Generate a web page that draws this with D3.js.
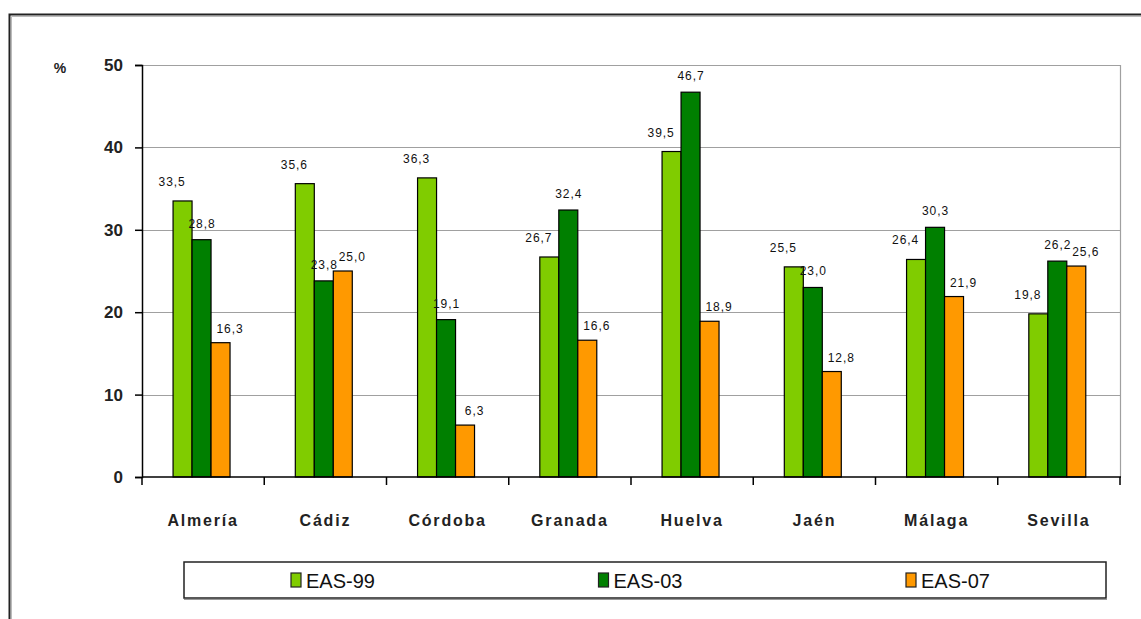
<!DOCTYPE html>
<html>
<head>
<meta charset="utf-8">
<script src="https://cdn.jsdelivr.net/npm/d3@7"></script>
<style>
  html, body { margin: 0; padding: 0; background: #fff; }
  svg { display: block; }
</style>
</head>
<body>
<svg id="chart" width="1141" height="619"></svg>
<script>
const categories = ["Almería", "Cádiz", "Córdoba", "Granada", "Huelva", "Jaén", "Málaga", "Sevilla"];
const seriesNames = ["EAS-99", "EAS-03", "EAS-07"];
const eas99 = [33.5, 35.6, 36.3, 26.7, 39.5, 25.5, 26.4, 19.8];
const eas03 = [28.8, 23.8, 19.1, 32.4, 46.7, 23.0, 30.3, 26.2];
const eas07 = [16.3, 25.0, 6.3, 16.6, 18.9, 12.8, 21.9, 25.6];
const yTicks = [0, 10, 20, 30, 40, 50];
const colors = ["#80cc00", "#007f00", "#ff9900"];

(function () {
const seriesValues = [eas99, eas03, eas07];
const svg = d3.select("#chart");
const FONT = "Arial, 'Liberation Sans', sans-serif";

// outer frame
svg.append("path").attr("d", "M9.5,619 V14.5 H1141")
  .attr("fill", "none").attr("stroke", "#222").attr("stroke-width", 2);
svg.append("path").attr("d", "M11.5,619 V16.5 H1141")
  .attr("fill", "none").attr("stroke", "#bbb").attr("stroke-width", 1);

const pl = 142, pr = 1120, pt = 65, pb = 477;
const x = d3.scaleBand().domain(categories).range([pl, pr]).padding(0);
const bw = x.bandwidth();
const xs = d3.scaleBand().domain(seriesNames).range([bw * 0.25, bw * 0.716]).padding(0);
const y = d3.scaleLinear().domain([0, 50]).range([pb, pt]);

// gridlines
svg.append("g").selectAll("line").data(yTicks.filter(d => d > 0)).join("line")
  .attr("x1", pl).attr("x2", pr)
  .attr("y1", d => Math.round(y(d)) + 0.5).attr("y2", d => Math.round(y(d)) + 0.5)
  .attr("stroke", "#a0a0a0").attr("stroke-width", 1.2);
svg.append("line").attr("x1", pr + 0.5).attr("x2", pr + 0.5)
  .attr("y1", pt).attr("y2", pb).attr("stroke", "#a0a0a0").attr("stroke-width", 1.2);

// bars
const rows = categories.map((c, i) => seriesNames.map((s, j) => ({ c, s, j, v: seriesValues[j][i] })));
const groups = svg.append("g").selectAll("g").data(rows).join("g")
  .attr("transform", d => `translate(${x(d[0].c)},0)`);
groups.selectAll("rect").data(d => d).join("rect")
  .attr("x", d => xs(d.s) + 0.5)
  .attr("y", d => y(d.v))
  .attr("width", xs.bandwidth())
  .attr("height", d => y(0) - y(d.v))
  .attr("fill", d => colors[d.j])
  .attr("stroke", "#000").attr("stroke-width", 1.2);

// value labels
const labDx = [-10, 1, 10];
const labDy = [-15, -12, -10];
groups.selectAll("text").data(d => d).join("text")
  .attr("x", d => xs(d.s) + xs.bandwidth() / 2 + labDx[d.j])
  .attr("y", d => y(d.v) + labDy[d.j])
  .attr("text-anchor", "middle")
  .attr("font-family", FONT)
  .attr("font-size", 12).attr("letter-spacing", 0.9)
  .attr("fill", "#111")
  .text(d => d3.format(".1f")(d.v).replace(".", ","));

// y axis
const yAxis = d3.axisLeft(y).tickValues(yTicks).tickSize(7).tickPadding(12);
const gy = svg.append("g").attr("transform", `translate(${pl},0)`).call(yAxis);
gy.select(".domain").attr("stroke", "#000").attr("stroke-width", 1.5);
gy.selectAll(".tick line").attr("stroke", "#000").attr("stroke-width", 1.5);
gy.selectAll(".tick text")
  .attr("font-family", FONT)
  .attr("font-size", 17).attr("font-weight", "bold").attr("fill", "#222");

svg.append("text").attr("x", 60).attr("y", 73).attr("text-anchor", "middle")
  .attr("font-family", FONT)
  .attr("font-size", 14).attr("font-weight", "bold").attr("fill", "#222").text("%");

// x axis
const gx = svg.append("g").attr("transform", `translate(0,${pb})`);
gx.append("line").attr("x1", pl).attr("x2", pr + 1).attr("y1", 0).attr("y2", 0)
  .attr("stroke", "#000").attr("stroke-width", 1.5);
gx.selectAll("line.tk").data(categories.map(c => x(c)).concat([pr])).join("line")
  .attr("class", "tk")
  .attr("x1", d => d).attr("x2", d => d).attr("y1", 0).attr("y2", 8)
  .attr("stroke", "#000").attr("stroke-width", 1.5);
gx.selectAll("text").data(categories).join("text")
  .attr("x", d => x(d) + bw / 2)
  .attr("y", 49)
  .attr("text-anchor", "middle")
  .attr("font-family", FONT)
  .attr("font-size", 16).attr("font-weight", "bold").attr("letter-spacing", 1.8)
  .attr("fill", "#222")
  .text(d => d);

// legend
const lg = svg.append("g");
lg.append("rect").attr("x", 184).attr("y", 562).attr("width", 922).attr("height", 36)
  .attr("fill", "#fff").attr("stroke", "#222").attr("stroke-width", 1.5);
lg.append("line").attr("x1", 184).attr("x2", 1107).attr("y1", 599.5).attr("y2", 599.5)
  .attr("stroke", "#999").attr("stroke-width", 1);
const legendX = d3.scalePoint().domain(seriesNames).range([291, 906]);
const items = lg.selectAll("g.it").data(seriesNames).join("g").attr("class", "it")
  .attr("transform", d => `translate(${legendX(d)},0)`);
items.append("rect").attr("x", 0).attr("y", 573).attr("width", 10).attr("height", 14)
  .attr("fill", (d, i) => colors[i]).attr("stroke", "#222").attr("stroke-width", 1.2);
items.append("text").attr("x", 15).attr("y", 588)
  .attr("font-family", FONT)
  .attr("font-size", 20).attr("fill", "#111")
  .text(d => d);
})();
</script>
</body>
</html>
